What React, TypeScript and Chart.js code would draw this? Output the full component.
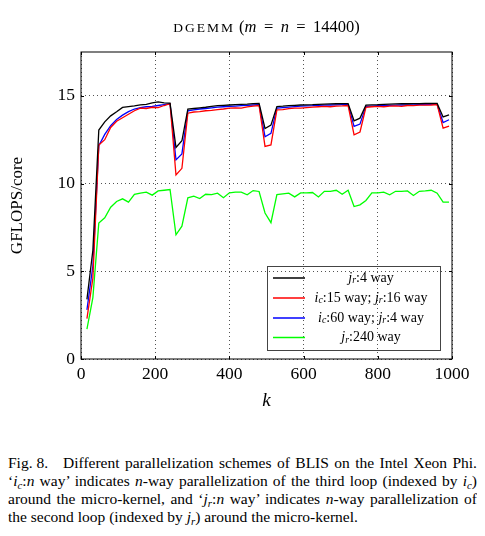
import React, { useEffect, useRef } from "react";
import { Chart, registerables } from "chart.js";
Chart.register(...registerables);

const SERIF = '"Liberation Serif", "DejaVu Serif", serif';

const kValues = [16, 32, 48, 64, 80, 96, 112, 128, 144, 160, 176, 192, 208, 224, 240, 256, 272, 288, 304, 320, 336, 352, 368, 384, 400, 416, 432, 448, 464, 480, 496, 512, 528, 544, 560, 576, 592, 608, 624, 640, 656, 672, 688, 704, 720, 736, 752, 768, 784, 800, 816, 832, 848, 864, 880, 896, 912, 928, 944, 960, 976, 992];

const jr4 = [3.4, 6.2, 13.05, 13.52, 13.86, 14.09, 14.34, 14.39, 14.43, 14.49, 14.52, 14.6, 14.66, 14.6, 14.58, 12.06, 12.44, 14.24, 14.28, 14.32, 14.35, 14.4, 14.44, 14.46, 14.48, 14.5, 14.52, 14.53, 14.56, 14.57, 13.14, 13.33, 14.39, 14.41, 14.44, 14.46, 14.48, 14.49, 14.5, 14.52, 14.53, 14.54, 14.55, 14.56, 14.56, 13.58, 13.73, 14.47, 14.49, 14.5, 14.52, 14.53, 14.54, 14.55, 14.55, 14.56, 14.56, 14.57, 14.57, 14.57, 13.8, 13.92];

const ic15jr16 = [2.3, 4.6, 12.2, 12.5, 13.2, 13.55, 13.75, 13.95, 14.15, 14.3, 14.28, 14.35, 14.33, 14.45, 14.55, 10.49, 10.87, 14.01, 14.08, 14.1, 14.15, 14.17, 14.22, 14.25, 14.3, 14.32, 14.3, 14.37, 14.42, 14.45, 12.12, 12.2, 14.2, 14.22, 14.27, 14.3, 14.3, 14.33, 14.36, 14.38, 14.4, 14.38, 14.42, 14.43, 14.45, 12.78, 12.94, 14.35, 14.38, 14.4, 14.38, 14.42, 14.43, 14.4, 14.45, 14.44, 14.47, 14.47, 14.48, 14.5, 13.16, 13.28];

const ic60jr4 = [2.8, 5.3, 12.16, 12.8, 13.3, 13.65, 13.9, 14.1, 14.25, 14.33, 14.38, 14.4, 14.45, 14.5, 14.55, 11.35, 11.69, 14.15, 14.2, 14.25, 14.28, 14.32, 14.36, 14.38, 14.4, 14.42, 14.44, 14.46, 14.48, 14.5, 12.67, 12.86, 14.3, 14.33, 14.36, 14.39, 14.41, 14.43, 14.44, 14.46, 14.47, 14.48, 14.49, 14.5, 14.5, 13.26, 13.39, 14.4, 14.42, 14.44, 14.45, 14.46, 14.47, 14.48, 14.48, 14.49, 14.5, 14.5, 14.51, 14.51, 13.48, 13.64];

const jr240 = [1.7, 3.5, 7.75, 8.05, 8.65, 8.98, 9.13, 8.94, 9.38, 9.45, 9.51, 9.34, 9.58, 9.62, 9.66, 7.08, 7.57, 9.19, 9.28, 9.15, 9.39, 9.37, 9.45, 9.19, 9.47, 9.51, 9.51, 9.36, 9.6, 9.55, 8.32, 7.77, 9.37, 9.41, 9.45, 9.24, 9.47, 9.47, 9.49, 9.24, 9.56, 9.56, 9.62, 9.39, 9.62, 8.69, 8.79, 9.04, 9.47, 9.47, 9.51, 9.36, 9.56, 9.56, 9.58, 9.32, 9.56, 9.58, 9.62, 9.45, 8.94, 8.94];

const xTicks = [0, 200, 400, 600, 800, 1000];
const yTicks = [0, 5, 10, 15];

type Part = { t: string; it?: boolean; sub?: boolean };

const seriesLabels: Part[][] = [
  [{ t: "j", it: true }, { t: "r", it: true, sub: true }, { t: ":4 way" }],
  [{ t: "i", it: true }, { t: "c", it: true, sub: true }, { t: ":15 way; " }, { t: "j", it: true }, { t: "r", it: true, sub: true }, { t: ":16 way" }],
  [{ t: "i", it: true }, { t: "c", it: true, sub: true }, { t: ":60 way; " }, { t: "j", it: true }, { t: "r", it: true, sub: true }, { t: ":4 way" }],
  [{ t: "j", it: true }, { t: "r", it: true, sub: true }, { t: ":240 way" }],
];
const seriesColors = ["#000000", "#ff0000", "#0000ff", "#00ff00"];
const seriesValues = [jr4, ic15jr16, ic60jr4, jr240];

function richWidth(ctx: CanvasRenderingContext2D, parts: Part[], size: number) {
  let w = 0;
  for (const p of parts) {
    ctx.font = `${p.it ? "italic " : ""}${p.sub ? size * 0.7 : size}px ${SERIF}`;
    w += ctx.measureText(p.t).width;
  }
  return w;
}

function drawRich(ctx: CanvasRenderingContext2D, parts: Part[], cx: number, y: number, size: number) {
  const w = richWidth(ctx, parts, size);
  let x = cx - w / 2;
  for (const p of parts) {
    ctx.font = `${p.it ? "italic " : ""}${p.sub ? size * 0.7 : size}px ${SERIF}`;
    ctx.fillText(p.t, x, p.sub ? y + size * 0.2 : y);
    x += ctx.measureText(p.t).width;
  }
}

const decorPlugin = {
  id: "decor",
  afterDraw(chart: any) {
    const ctx: CanvasRenderingContext2D = chart.ctx;
    const a = chart.chartArea;
    const xs = chart.scales.x;
    const ys = chart.scales.y;
    ctx.save();
    ctx.strokeStyle = "#000";
    ctx.lineWidth = 1;
    ctx.strokeRect(a.left, a.top, a.right - a.left, a.bottom - a.top);
    ctx.beginPath();
    for (const v of xTicks) {
      const px = Math.round(xs.getPixelForValue(v)) + 0.5;
      ctx.moveTo(px, a.bottom);
      ctx.lineTo(px, a.bottom - 3);
      ctx.moveTo(px, a.top);
      ctx.lineTo(px, a.top + 3);
    }
    for (const v of yTicks) {
      const py = Math.round(ys.getPixelForValue(v)) + 0.5;
      ctx.moveTo(a.left, py);
      ctx.lineTo(a.left + 3, py);
      ctx.moveTo(a.right, py);
      ctx.lineTo(a.right - 3, py);
    }
    ctx.stroke();

    ctx.fillStyle = "#000";
    ctx.textAlign = "left";
    ctx.textBaseline = "alphabetic";
    const titleSize = 16.5;
    const scText = "DGEMM";
    const scSize = 13.5;
    const scSpacing = 2;
    ctx.font = `${scSize}px ${SERIF}`;
    let scW = 0;
    for (const ch of scText) scW += ctx.measureText(ch).width + scSpacing;
    const rest: Part[] = [{ t: " (" }, { t: "m", it: true }, { t: " \u2009=\u2009 " }, { t: "n", it: true }, { t: " \u2009=\u2009 14400)" }];
    const restW = richWidth(ctx, rest, titleSize);
    const total = scW + restW;
    let tx = (a.left + a.right) / 2 - total / 2;
    const ty = 24;
    ctx.font = `${scSize}px ${SERIF}`;
    for (const ch of scText) {
      ctx.fillText(ch, tx, ty);
      tx += ctx.measureText(ch).width + scSpacing;
    }
    drawRich(ctx, rest, tx + restW / 2, ty, titleSize);

    ctx.textBaseline = "middle";
    drawRich(ctx, [{ t: "k", it: true }], (a.left + a.right) / 2, 393, 19);
    ctx.save();
    ctx.translate(10, (a.top + a.bottom) / 2);
    ctx.rotate(-Math.PI / 2);
    drawRich(ctx, [{ t: "GFLOPS/core" }], 0, 0, 17);
    ctx.restore();

    const bw = 173;
    const bh = 84;
    const bx = a.right - 12 - bw;
    const by = a.bottom - 9 - bh;
    ctx.strokeStyle = "#444";
    ctx.lineWidth = 1;
    ctx.strokeRect(Math.round(bx) + 0.5, Math.round(by) + 0.5, bw, bh);
    const rowY = [12, 32, 52, 71.5];
    for (let i = 0; i < 4; i++) {
      const yy = by + rowY[i];
      ctx.strokeStyle = seriesColors[i];
      ctx.lineWidth = 1.5;
      ctx.beginPath();
      ctx.moveTo(bx + 6, yy);
      ctx.lineTo(bx + 38, yy);
      ctx.stroke();
      ctx.fillStyle = "#000";
      ctx.textBaseline = "middle";
      drawRich(ctx, seriesLabels[i], bx + 104, yy, 14);
    }
    ctx.restore();
  },
};

function ChartCanvas() {
  const ref = useRef<HTMLCanvasElement>(null);
  useEffect(() => {
    if (!ref.current) return;
    const chart = new Chart(ref.current, {
      type: "line",
      data: {
        datasets: seriesValues.map((vals, i) => ({
          label: "s" + i,
          data: kValues.map((k, j) => ({ x: k, y: vals[j] })),
          borderColor: seriesColors[i],
          backgroundColor: seriesColors[i],
          borderWidth: 1.3,
          pointRadius: 0,
          tension: 0,
          fill: false,
        })),
      },
      options: {
        responsive: false,
        animation: false,
        layout: { padding: { left: 0, right: 25, top: 44, bottom: 0 } },
        plugins: { legend: { display: false }, tooltip: { enabled: false }, title: { display: false } },
        scales: {
          x: {
            type: "linear",
            min: 0,
            max: 1000,
            afterBuildTicks: (s: any) => {
              s.ticks = xTicks.map((v) => ({ value: v }));
            },
            afterFit: (s: any) => {
              s.height = 69;
            },
            ticks: {
              color: "#000",
              font: { family: SERIF, size: 17.5 },
              padding: 5,
              maxRotation: 0,
              autoSkip: false,
              callback: (v: any) => String(v),
            },
            grid: { color: "rgba(0,0,0,0.85)", lineWidth: 0.8, drawTicks: false },
            border: { display: false, dash: [1, 3] },
          },
          y: {
            type: "linear",
            min: 0,
            max: 17.5,
            afterBuildTicks: (s: any) => {
              s.ticks = yTicks.map((v) => ({ value: v }));
            },
            afterFit: (s: any) => {
              s.width = 73;
            },
            ticks: {
              color: "#000",
              font: { family: SERIF, size: 17.5 },
              padding: 6,
              autoSkip: false,
              callback: (v: any) => String(v),
            },
            grid: { color: "rgba(0,0,0,0.85)", lineWidth: 0.8, drawTicks: false },
            border: { display: false, dash: [1, 3] },
          },
        },
      },
      plugins: [decorPlugin],
    } as any);
    return () => chart.destroy();
  }, []);
  return <canvas ref={ref} width={469} height={420} style={{ display: "block", width: 469, height: 420 }} />;
}

const sub = { fontSize: "0.7em", verticalAlign: "-0.25em", lineHeight: 0 } as const;
const lineJ = { textAlign: "justify", textAlignLast: "justify" } as any;

export default function App() {
  return (
    <div style={{ width: 469 }}>
      <ChartCanvas />
      <div style={{ fontFamily: SERIF, fontSize: "15.5px", lineHeight: "18px", marginTop: 26, color: "#000" }}>
        <div style={lineJ}>
          <span style={{ display: "inline-block", width: 55, textAlign: "left", textAlignLast: "left" } as any}>Fig. 8.</span>Different parallelization schemes of BLIS on the Intel Xeon Phi.
        </div>
        <div style={lineJ}>
          ‘<i>i</i><sub style={sub}><i>c</i></sub>:<i>n</i> way’ indicates <i>n</i>-way parallelization of the third loop (indexed by <i>i</i><sub style={sub}><i>c</i></sub>)
        </div>
        <div style={lineJ}>
          around the micro-kernel, and ‘<i>j</i><sub style={sub}><i>r</i></sub>:<i>n</i> way’ indicates <i>n</i>-way parallelization of
        </div>
        <div>
          the second loop (indexed by <i>j</i><sub style={sub}><i>r</i></sub>) around the micro-kernel.
        </div>
      </div>
    </div>
  );
}
